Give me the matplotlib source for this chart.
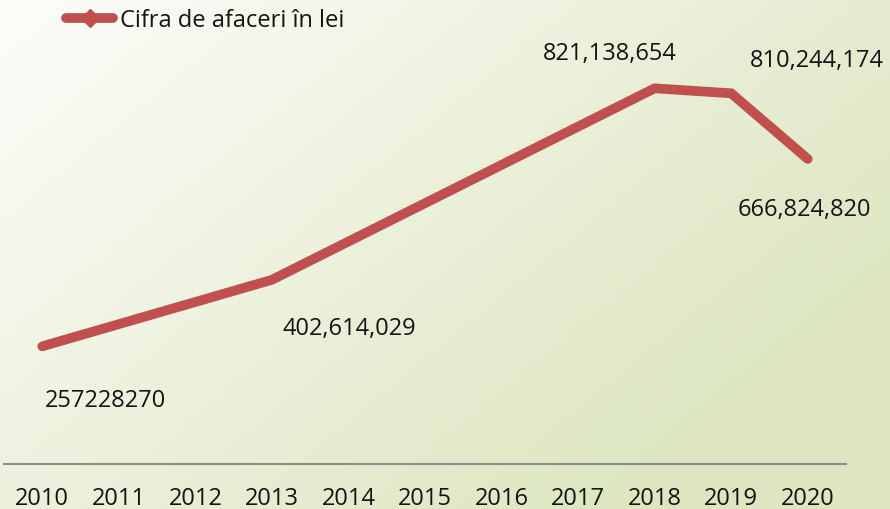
import matplotlib.pyplot as plt
import numpy as np
from matplotlib.lines import Line2D

years = [2010, 2013, 2018, 2019, 2020]
values = [257228270, 402614029, 821138654, 810244174, 666824820]
labels = ["257228270", "402,614,029", "821,138,654", "810,244,174", "666,824,820"]
# label offsets from the point, in pixels
offsets = [(63, -54), (77, -48), (-45, 35), (86, 33), (-3, -50)]
tick_years = list(range(2010, 2021))

plt.rcParams['font.family'] = ['Open Sans', 'DejaVu Sans']
red = '#C0504D'
txt = '#141414'

fig = plt.figure(figsize=(8.9, 5.1), dpi=100)

# background: soft white -> light green gradient
bg = fig.add_axes([0, 0, 1, 1], zorder=-10)
gx, gy = np.meshgrid(np.linspace(0, 1, 300), np.linspace(0, 1, 200))
t = np.clip(0.72 * gx + 0.5 * gy, 0, 1)
c0 = np.array([0xfd, 0xfd, 0xfa]) / 255
c1 = np.array([0xdd, 0xe6, 0xc1]) / 255
img = c0[None, None, :] * (1 - t[..., None]) + c1[None, None, :] * t[..., None]
bg.imshow(img, aspect='auto', extent=[0, 1, 0, 1], origin='upper')
bg.axis('off')

ax = fig.add_axes([4 / 890, 1 - 465 / 510, 842 / 890, (465 - 7.5) / 510])
ax.patch.set_alpha(0)
ax.plot(years, values, color=red, lw=7, solid_capstyle='round', solid_joinstyle='miter')

for x, v, lab, off in zip(years, values, labels, offsets):
    ax.annotate(lab, (x, v), xytext=off, textcoords='offset pixels',
                ha='center', va='center', fontsize=17, color=txt)

ax.set_xlim(2009.5, 2020.5)
ax.set_ylim(0, 1e9)
ax.set_xticks(tick_years)
ax.set_xticklabels([str(y) for y in tick_years])
ax.tick_params(axis='x', length=0, pad=16, labelsize=17, labelcolor=txt)
ax.set_yticks([])
for s in ['top', 'right', 'left']:
    ax.spines[s].set_visible(False)
ax.spines['bottom'].set_color('#8c8c8c')
ax.spines['bottom'].set_linewidth(1.5)

handle = Line2D([], [], color=red, lw=7, marker='D', markersize=9,
                solid_capstyle='round')
fig.legend(handles=[handle], labels=['Cifra de afaceri în lei'],
           loc='center left', bbox_to_anchor=(66 / 890, 1 - 21 / 510),
           frameon=False, fontsize=17, handlelength=2.0, handletextpad=0.3,
           borderpad=0, borderaxespad=0, labelcolor=txt)

fig.savefig('out.png', dpi=100)
